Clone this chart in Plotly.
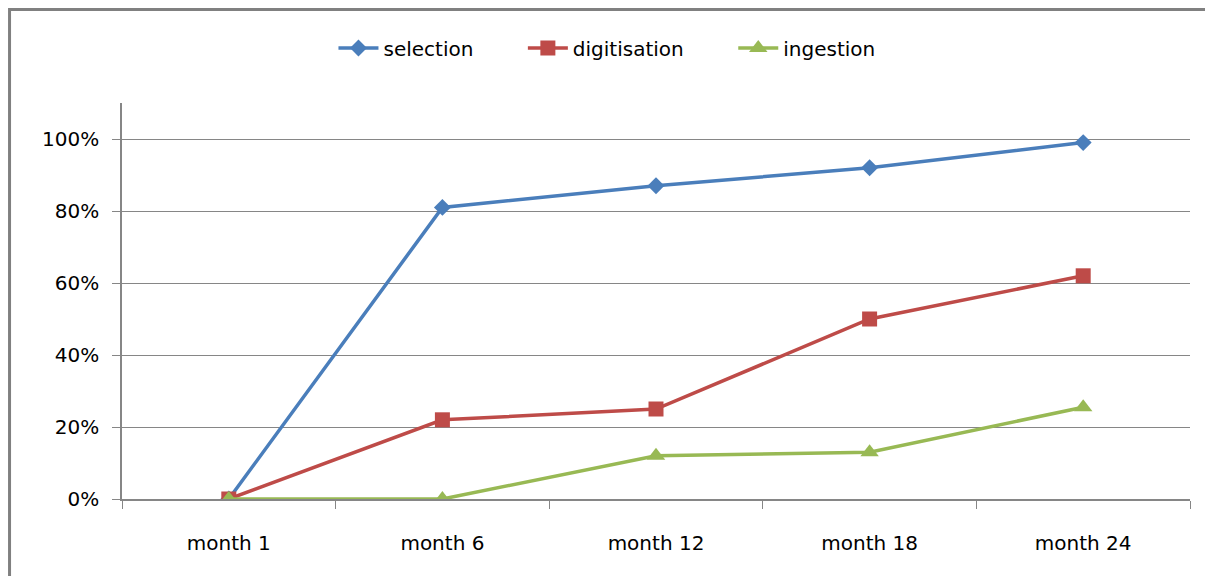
import plotly.graph_objects as go

months = ["month 1", "month 6", "month 12", "month 18", "month 24"]
selection = [0.0, 0.81, 0.87, 0.92, 0.99]
digitisation = [0.0, 0.22, 0.25, 0.50, 0.62]
ingestion = [0.0, 0.0, 0.12, 0.13, 0.255]
y_ticks = [0, 0.2, 0.4, 0.6, 0.8, 1.0]

FONT = "DejaVu Sans, Roboto, Arial, sans-serif"
GREY = "#868686"
PAD = "\u00a0" * 7  # extra room after each legend label

fig = go.Figure()

series = [
    ("selection", selection, "#4A7EBB", "diamond", 13),
    ("digitisation", digitisation, "#BE4B48", "square", 15),
    ("ingestion", ingestion, "#98B954", "triangle-up", 16),
]
for name, vals, colour, sym, size in series:
    fig.add_trace(go.Scatter(
        x=months, y=vals, name=name + PAD, mode="lines+markers",
        line={"color": colour, "width": 3.5},
        marker={"symbol": sym, "size": size, "color": colour},
    ))

# outer chart border (left and top edges)
fig.add_shape(type="path", xref="paper", yref="paper",
              path="M -0.1053,-0.3 L -0.1053,1.236 L 1.1,1.236",
              line={"color": "#808080", "width": 3})

# page body has an 8px margin, so the figure is shrunk to fit the window
fig.update_layout(
    width=1205, height=568,
    margin={"l": 114, "r": 23, "t": 95, "b": 77},
    paper_bgcolor="white", plot_bgcolor="white",
    font={"family": FONT, "size": 20, "color": "#000000"},
    showlegend=True,
    legend={"orientation": "h", "x": 0.198, "xanchor": "left",
            "y": 1.139, "yanchor": "middle", "font": {"size": 20},
            "itemwidth": 40, "tracegroupgap": 0},
    xaxis={"type": "category", "range": [-0.5, 4.5], "tickson": "boundaries",
           "showline": True, "linecolor": GREY, "linewidth": 1.5,
           "ticks": "outside", "ticklen": 8, "tickcolor": GREY,
           "showgrid": False, "zeroline": False,
           "ticklabelstandoff": 25, "tickfont": {"size": 20}},
    yaxis={"range": [0, 1.1], "tickvals": y_ticks, "tickformat": ".0%",
           "showline": True, "linecolor": GREY, "linewidth": 1.5,
           "ticks": "outside", "ticklen": 8, "tickcolor": GREY,
           "showgrid": True, "gridcolor": GREY, "gridwidth": 1.2,
           "zeroline": False, "ticklabelstandoff": 9,
           "tickfont": {"size": 20}},
)

fig.write_html("out.html")
